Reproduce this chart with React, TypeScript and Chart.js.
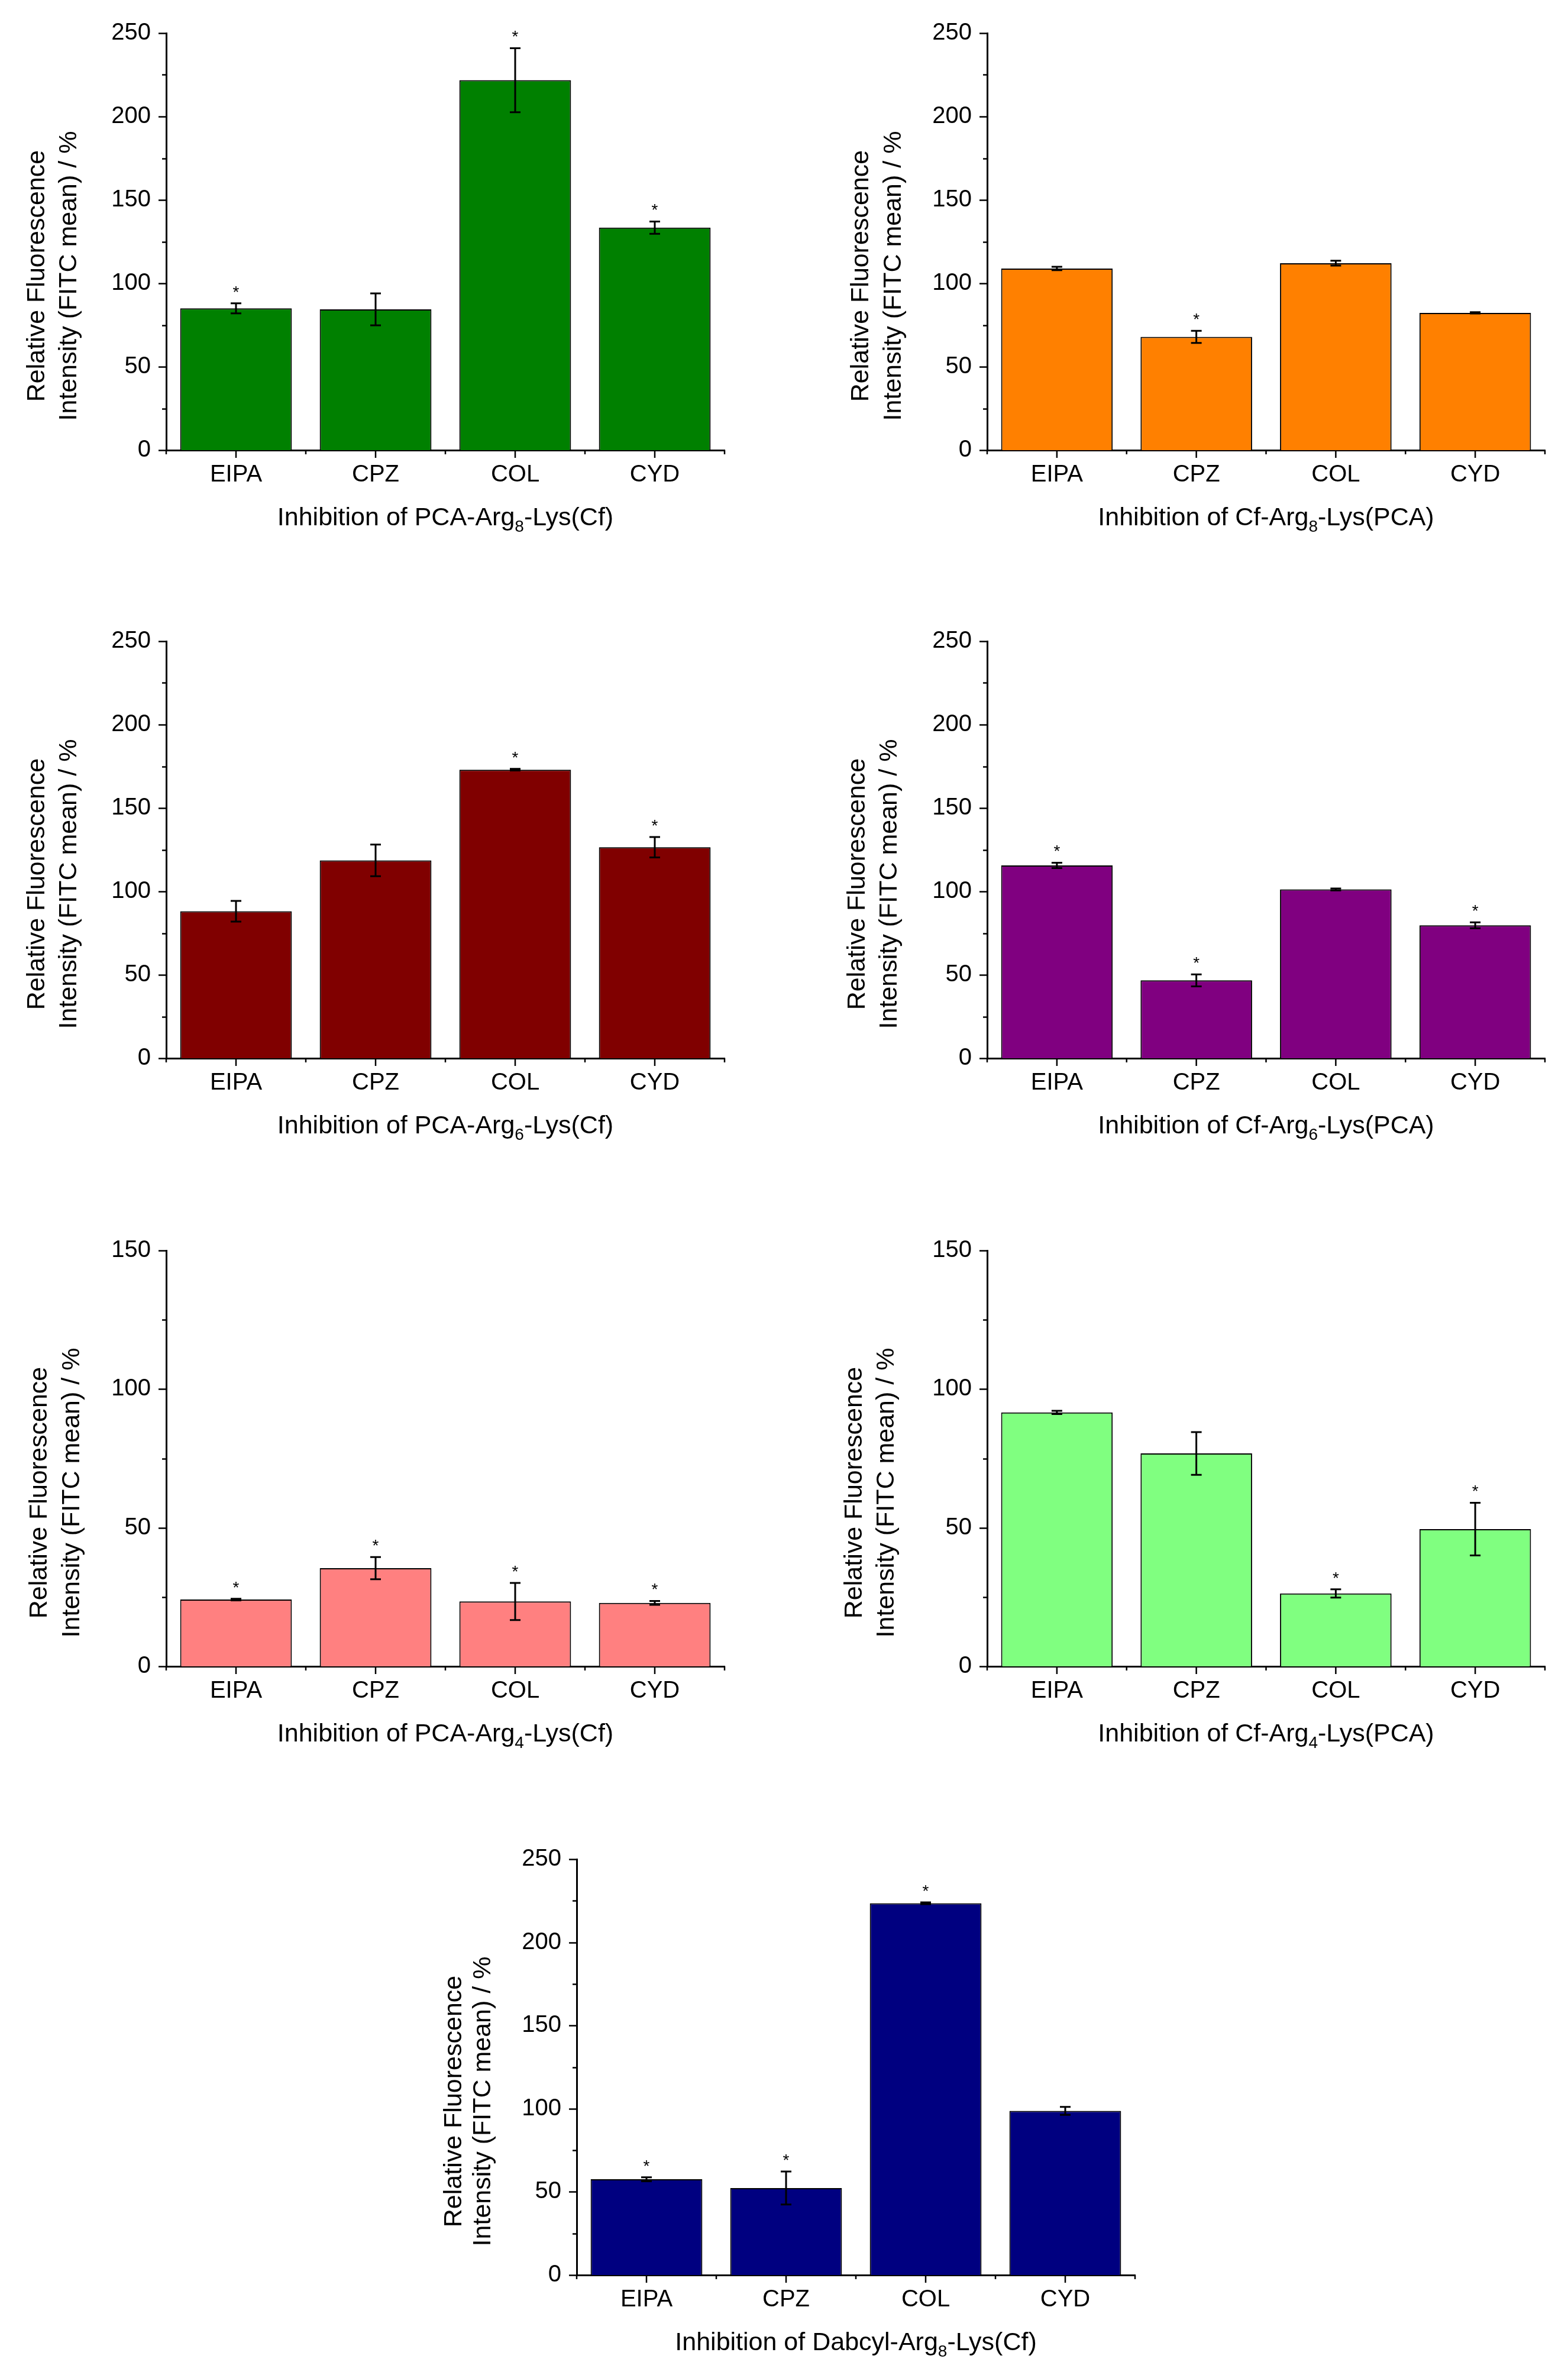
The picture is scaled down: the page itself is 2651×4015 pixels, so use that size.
import { useEffect, useRef } from 'react';
import { Chart, type ChartConfiguration, type Plugin, registerables } from 'chart.js';

Chart.register(...registerables);

const FONT = '"Liberation Sans", Arial, sans-serif';

const categories = ['EIPA', 'CPZ', 'COL', 'CYD'];

// PCA-Arg8-Lys(Cf)
const pcaArg8Means = [85.0, 84.4, 221.8, 133.4];
const pcaArg8Errors = [3.0, 9.6, 19.2, 3.7];
const pcaArg8Stars = [true, false, true, true];

// Cf-Arg8-Lys(PCA)
const cfArg8Means = [108.9, 67.9, 112.1, 82.3];
const cfArg8Errors = [1.0, 3.6, 1.5, 0.4];
const cfArg8Stars = [false, true, false, false];

// PCA-Arg6-Lys(Cf)
const pcaArg6Means = [88.1, 118.6, 173.0, 126.5];
const pcaArg6Errors = [6.2, 9.5, 0.5, 6.1];
const pcaArg6Stars = [false, false, true, true];

// Cf-Arg6-Lys(PCA)
const cfArg6Means = [115.6, 46.7, 101.2, 79.7];
const cfArg6Errors = [1.6, 3.6, 0.6, 1.8];
const cfArg6Stars = [true, true, false, true];

// PCA-Arg4-Lys(Cf)
const pcaArg4Means = [24.1, 35.4, 23.4, 22.9];
const pcaArg4Errors = [0.3, 4.0, 6.7, 0.7];
const pcaArg4Stars = [true, true, true, true];

// Cf-Arg4-Lys(PCA)
const cfArg4Means = [91.6, 76.8, 26.3, 49.5];
const cfArg4Errors = [0.6, 7.7, 1.5, 9.5];
const cfArg4Stars = [false, false, true, true];

// Dabcyl-Arg8-Lys(Cf)
const dabcylArg8Means = [57.6, 52.3, 223.5, 98.7];
const dabcylArg8Errors = [1.2, 9.9, 0.5, 2.4];
const dabcylArg8Stars = [true, true, true, false];

const yTitleLines = ['Relative Fluorescence', 'Intensity (FITC mean) / %'];

interface PanelSpec {
  means: number[];
  errors: number[];
  stars: boolean[];
  color: string;
  yMax: number;
  xTitle: [string, string, string];
  // layout (page pixels)
  axisX: number;
  right: number;
  top: number;
  bottom: number;
  titleDx: [number, number];
}

const panels: PanelSpec[] = [
  { means: pcaArg8Means, errors: pcaArg8Errors, stars: pcaArg8Stars, color: '#008000', yMax: 250,
    xTitle: ['Inhibition of PCA-Arg', '8', '-Lys(Cf)'], axisX: 281, right: 1225, top: 56, bottom: 761, titleDx: [-218, -164] },
  { means: cfArg8Means, errors: cfArg8Errors, stars: cfArg8Stars, color: '#FF8000', yMax: 250,
    xTitle: ['Inhibition of Cf-Arg', '8', '-Lys(PCA)'], axisX: 1669, right: 2612, top: 56, bottom: 761, titleDx: [-213, -158] },
  { means: pcaArg6Means, errors: pcaArg6Errors, stars: pcaArg6Stars, color: '#800000', yMax: 250,
    xTitle: ['Inhibition of PCA-Arg', '6', '-Lys(Cf)'], axisX: 281, right: 1225, top: 1084, bottom: 1789, titleDx: [-218, -164] },
  { means: cfArg6Means, errors: cfArg6Errors, stars: cfArg6Stars, color: '#800080', yMax: 250,
    xTitle: ['Inhibition of Cf-Arg', '6', '-Lys(PCA)'], axisX: 1669, right: 2612, top: 1084, bottom: 1789, titleDx: [-219, -165] },
  { means: pcaArg4Means, errors: pcaArg4Errors, stars: pcaArg4Stars, color: '#FF8080', yMax: 150,
    xTitle: ['Inhibition of PCA-Arg', '4', '-Lys(Cf)'], axisX: 281, right: 1225, top: 2114, bottom: 2817, titleDx: [-214, -159] },
  { means: cfArg4Means, errors: cfArg4Errors, stars: cfArg4Stars, color: '#80FF80', yMax: 150,
    xTitle: ['Inhibition of Cf-Arg', '4', '-Lys(PCA)'], axisX: 1669, right: 2612, top: 2114, bottom: 2817, titleDx: [-224, -170] },
  { means: dabcylArg8Means, errors: dabcylArg8Errors, stars: dabcylArg8Stars, color: '#000080', yMax: 250,
    xTitle: ['Inhibition of Dabcyl-Arg', '8', '-Lys(Cf)'], axisX: 975, right: 1919, top: 3143, bottom: 3846, titleDx: [-207, -158] },
];

const PAD_LEFT = 280;
const PAD_TOP = 56;
const PAD_RIGHT = 20;
const PAD_BOTTOM = 165;

function BarPanel({ spec }: { spec: PanelSpec }) {
  const canvasRef = useRef<HTMLCanvasElement | null>(null);
  const chartRef = useRef<Chart<'bar'> | null>(null);

  const width = PAD_LEFT + (spec.right - spec.axisX) + PAD_RIGHT;
  const height = PAD_TOP + (spec.bottom - spec.top) + PAD_BOTTOM;

  useEffect(() => {
    if (!canvasRef.current) return;
    const { means, errors, stars, yMax, xTitle, titleDx } = spec;

    const decorations: Plugin<'bar'> = {
      id: 'decorations',
      afterDatasetsDraw(chart) {
        const { ctx } = chart;
        const xs = chart.scales.x;
        const ys = chart.scales.y;
        ctx.save();
        ctx.strokeStyle = '#000';
        ctx.fillStyle = '#000';
        ctx.lineWidth = 3;
        means.forEach((m, i) => {
          const cx = xs.getPixelForValue(i);
          const yTop = ys.getPixelForValue(m + errors[i]);
          const yBot = ys.getPixelForValue(m - errors[i]);
          ctx.beginPath();
          ctx.moveTo(cx, yTop);
          ctx.lineTo(cx, yBot);
          ctx.moveTo(cx - 9, yTop);
          ctx.lineTo(cx + 9, yTop);
          ctx.moveTo(cx - 9, yBot);
          ctx.lineTo(cx + 9, yBot);
          ctx.stroke();
          if (stars[i]) {
            ctx.font = `28px ${FONT}`;
            ctx.textAlign = 'center';
            ctx.textBaseline = 'alphabetic';
            ctx.fillText('*', cx, yTop - 10);
          }
        });
        ctx.restore();
      },
      afterDraw(chart) {
        const { ctx, chartArea } = chart;
        const xs = chart.scales.x;
        const ys = chart.scales.y;
        ctx.save();
        ctx.strokeStyle = '#000';
        ctx.fillStyle = '#000';
        ctx.lineWidth = 2.5;

        // y ticks: major every 50, minor every 25
        ctx.beginPath();
        for (let v = 0; v <= yMax; v += 25) {
          const py = Math.round(ys.getPixelForValue(v)) + 0.5;
          const len = v % 50 === 0 ? 13 : 7;
          ctx.moveTo(chartArea.left - len, py);
          ctx.lineTo(chartArea.left, py);
        }
        // x ticks: major at categories, minor at boundaries
        const half = (xs.getPixelForValue(1) - xs.getPixelForValue(0)) / 2;
        categories.forEach((_, i) => {
          const px = xs.getPixelForValue(i);
          ctx.moveTo(px, chartArea.bottom);
          ctx.lineTo(px, chartArea.bottom + 13);
        });
        for (let i = 0; i <= categories.length; i++) {
          const px = xs.getPixelForValue(0) - half + i * 2 * half;
          ctx.moveTo(px, chartArea.bottom);
          ctx.lineTo(px, chartArea.bottom + 7);
        }
        ctx.stroke();

        // y title, two rotated lines
        const cy = (chartArea.top + chartArea.bottom) / 2 + 58;
        ctx.font = `43px ${FONT}`;
        ctx.textAlign = 'center';
        ctx.textBaseline = 'middle';
        yTitleLines.forEach((line, i) => {
          ctx.save();
          ctx.translate(chartArea.left + titleDx[i], cy);
          ctx.rotate(-Math.PI / 2);
          ctx.fillText(line, 0, 0);
          ctx.restore();
        });

        // x title with subscript
        const [pre, sub, post] = xTitle;
        ctx.textAlign = 'left';
        ctx.textBaseline = 'alphabetic';
        ctx.font = `43px ${FONT}`;
        const wPre = ctx.measureText(pre).width;
        const wPost = ctx.measureText(post).width;
        ctx.font = `28px ${FONT}`;
        const wSub = ctx.measureText(sub).width;
        const base = chartArea.bottom + 127;
        let x = (chartArea.left + chartArea.right) / 2 - (wPre + wSub + wPost) / 2;
        ctx.font = `43px ${FONT}`;
        ctx.fillText(pre, x, base);
        x += wPre;
        ctx.font = `28px ${FONT}`;
        ctx.fillText(sub, x, base + 11);
        x += wSub;
        ctx.font = `43px ${FONT}`;
        ctx.fillText(post, x, base);
        ctx.restore();
      },
    };

    const config: ChartConfiguration<'bar'> = {
      type: 'bar',
      data: {
        labels: categories,
        datasets: [
          {
            data: means,
            backgroundColor: spec.color,
            borderColor: '#000',
            borderWidth: 2,
            barPercentage: 0.8,
            categoryPercentage: 1,
          },
        ],
      },
      options: {
        responsive: false,
        animation: false,
        devicePixelRatio: 1,
        layout: { padding: { top: PAD_TOP, right: PAD_RIGHT, left: 0, bottom: 0 } },
        plugins: {
          legend: { display: false },
          tooltip: { enabled: false },
        },
        scales: {
          x: {
            type: 'category',
            offset: true,
            grid: { display: false, drawTicks: false },
            border: { display: true, color: '#000', width: 3 },
            ticks: {
              color: '#000',
              font: { family: FONT, size: 40 },
              padding: 18,
              maxRotation: 0,
              autoSkip: false,
            },
            afterFit: (scale) => {
              scale.height = PAD_BOTTOM;
            },
          },
          y: {
            min: 0,
            max: yMax,
            grid: { display: false, drawTicks: false },
            border: { display: true, color: '#000', width: 3 },
            ticks: {
              stepSize: 50,
              color: '#000',
              font: { family: FONT, size: 40 },
              padding: 26,
            },
            afterFit: (scale) => {
              scale.width = PAD_LEFT;
            },
          },
        },
      },
      plugins: [decorations],
    };

    chartRef.current = new Chart(canvasRef.current, config);

    return () => {
      chartRef.current?.destroy();
      chartRef.current = null;
    };
  }, [spec]);

  return (
    <canvas
      ref={canvasRef}
      width={width}
      height={height}
      style={{
        position: 'absolute',
        left: spec.axisX - PAD_LEFT,
        top: spec.top - PAD_TOP,
        width,
        height,
      }}
    />
  );
}

export default function App() {
  return (
    <div
      style={{
        position: 'absolute',
        left: 0,
        top: 0,
        width: 2651,
        height: 4015,
        overflow: 'hidden',
        background: '#fff',
      }}
    >
      {panels.map((p, i) => (
        <BarPanel key={i} spec={p} />
      ))}
    </div>
  );
}
